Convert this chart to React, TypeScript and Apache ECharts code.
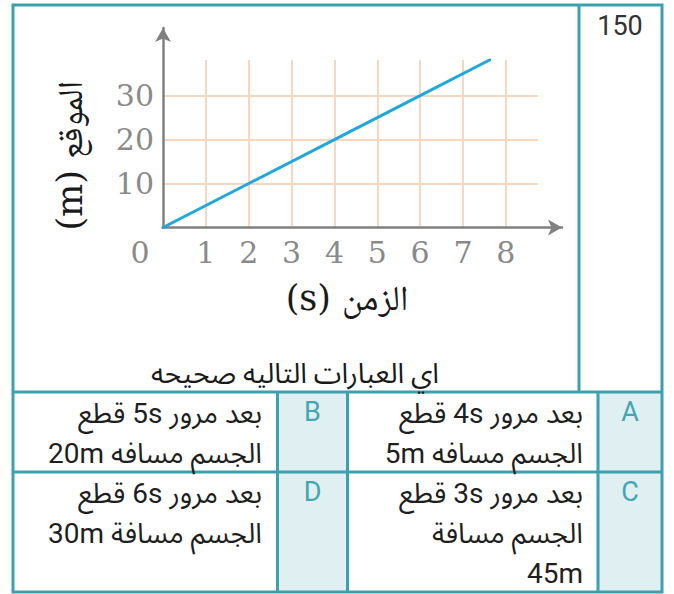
import React, { useEffect, useRef } from "react";
import * as echarts from "echarts";

// ---- data ----
const timeS = [0, 2, 4, 6, 7.62];
const positionM = [0, 10, 20, 30, 38.1];

const xAxisName = "الزمن (s)";
const yAxisName = "الموقع (m)";
const questionNumber = "150";
const questionText = "اي العبارات التاليه صحيحه";
const optionLetters = ["A", "B", "C", "D"];
const optionLines = [
  ["بعد مرور 4s قطع", "الجسم مسافه 5m"],
  ["بعد مرور 5s قطع", "الجسم مسافه 20m"],
  ["بعد مرور 3s قطع", "الجسم مسافة", "45m"],
  ["بعد مرور 6s قطع", "الجسم مسافة 30m"],
];

const RLE = "\u202B";
const PDF = "\u202C";
const rtl = (s: string) => RLE + s + PDF;

const TEAL = "#3ba1ae";
const CELL_FILL = "#e0eff2";
const GRID_COLOR = "#f9d6bd";
const AXIS_COLOR = "#808080";
const LABEL_COLOR = "#8a8a8a";
const ARABIC_FONT = "Roboto, 'Noto Sans Arabic', 'DejaVu Sans', sans-serif";
const SERIF_FONT = "'DejaVu Serif', 'Noto Naskh Arabic', 'DejaVu Sans', serif";

function buildTable(): any[] {
  const L = 13, R = 662, T = 5, B = 592;
  const rowY = [392, 472];
  const numX = 579;
  const leftLetterCol = [277.5, 347.5];
  const rightLetterCol = [598, 662];
  const els: any[] = [];
  [leftLetterCol, rightLetterCol].forEach((c) => {
    els.push({
      type: "rect",
      z: 0,
      shape: { x: c[0], y: rowY[0], width: c[1] - c[0], height: B - rowY[0] },
      style: { fill: CELL_FILL },
    });
  });
  const line = (x1: number, y1: number, x2: number, y2: number) => ({
    type: "line",
    z: 1,
    shape: { x1, y1, x2, y2 },
    style: { stroke: TEAL, lineWidth: 3 },
  });
  els.push({
    type: "rect",
    z: 1,
    shape: { x: L, y: T, width: R - L, height: B - T },
    style: { fill: "none", stroke: TEAL, lineWidth: 3 },
  });
  els.push(line(numX, T, numX, rowY[0]));
  els.push(line(L, rowY[0], R, rowY[0]));
  els.push(line(L, rowY[1], R, rowY[1]));
  els.push(line(leftLetterCol[0], rowY[0], leftLetterCol[0], B));
  els.push(line(leftLetterCol[1], rowY[0], leftLetterCol[1], B));
  els.push(line(rightLetterCol[0], rowY[0], rightLetterCol[0], B));

  els.push({
    type: "text",
    z: 2,
    x: 620,
    y: 26,
    style: {
      text: questionNumber,
      fill: "#333333",
      fontSize: 27,
      fontFamily: "Roboto, sans-serif",
      align: "center",
      verticalAlign: "middle",
    },
  });
  els.push({
    type: "text",
    z: 2,
    x: 295,
    y: 373,
    style: {
      text: rtl(questionText),
      fill: "#1a1a1a",
      fontSize: 28,
      fontFamily: ARABIC_FONT,
      align: "center",
      verticalAlign: "middle",
    },
  });

  const layout = [
    { letterX: 630, textX: 583, row: 0 },
    { letterX: 312.5, textX: 262, row: 0 },
    { letterX: 630, textX: 583, row: 1 },
    { letterX: 312.5, textX: 262, row: 1 },
  ];
  const rowTop = [393, 473];
  optionLetters.forEach((letter, i) => {
    const lay = layout[i];
    els.push({
      type: "text",
      z: 2,
      x: lay.letterX,
      y: rowTop[lay.row] + 19,
      style: {
        text: letter,
        fill: "#42a6b3",
        fontSize: 27,
        fontFamily: "Roboto, sans-serif",
        align: "center",
        verticalAlign: "middle",
      },
    });
    els.push({
      type: "text",
      z: 2,
      x: lay.textX,
      y: rowTop[lay.row],
      style: {
        text: optionLines[i].map(rtl).join("\n"),
        fill: "#1f1f1f",
        fontSize: 28,
        lineHeight: 40,
        fontFamily: ARABIC_FONT,
        align: "right",
        verticalAlign: "top",
      },
    });
  });
  return els;
}

export default function App() {
  const ref = useRef<HTMLDivElement>(null);
  useEffect(() => {
    if (!ref.current) return;
    const chart = echarts.init(ref.current, undefined, { renderer: "svg" });
    chart.setOption({
      animation: false,
      backgroundColor: "#ffffff",
      grid: [
        { left: 163, top: 60, width: 375, height: 167.5 },
        { left: 163, top: 28, width: 399, height: 199.5 },
      ],
      xAxis: [
        {
          gridIndex: 0,
          type: "value",
          min: 0,
          max: 8.75,
          interval: 1,
          axisLine: { show: false },
          axisTick: { show: false },
          splitLine: {
            show: true,
            showMinLine: false,
            showMaxLine: false,
            lineStyle: { color: GRID_COLOR, width: 2 },
          },
          axisLabel: {
            showMaxLabel: false,
            margin: 10,
            color: LABEL_COLOR,
            fontFamily: SERIF_FONT,
            fontSize: 30,
            formatter: (v: number) => (v === 0 ? "{z|0}" : String(v)),
            rich: {
              z: {
                padding: [0, 46, 0, 0],
                color: LABEL_COLOR,
                fontFamily: SERIF_FONT,
                fontSize: 30,
              },
            },
          },
          name: rtl(xAxisName),
          nameLocation: "middle",
          nameGap: 53,
          nameTextStyle: {
            color: "#1a1a1a",
            fontSize: 35,
            fontFamily: SERIF_FONT,
            padding: [0, 7, 0, 0],
          },
        },
        {
          gridIndex: 1,
          type: "value",
          min: 0,
          max: 1,
          axisLine: {
            show: true,
            symbol: ["none", "arrow"],
            symbolSize: [12, 14],
            lineStyle: { color: AXIS_COLOR, width: 2.5 },
          },
          axisTick: { show: false },
          axisLabel: { show: false },
          splitLine: { show: false },
        },
      ],
      yAxis: [
        {
          gridIndex: 0,
          type: "value",
          min: 0,
          max: 38.1,
          interval: 10,
          axisLine: { show: false },
          axisTick: { show: false },
          splitLine: {
            show: true,
            showMinLine: false,
            showMaxLine: false,
            lineStyle: { color: GRID_COLOR, width: 2 },
          },
          axisLabel: {
            showMinLabel: false,
            showMaxLabel: false,
            margin: 9,
            color: LABEL_COLOR,
            fontFamily: SERIF_FONT,
            fontSize: 30,
          },
          name: rtl(yAxisName),
          nameLocation: "middle",
          nameGap: 76,
          nameTextStyle: {
            color: "#1a1a1a",
            fontSize: 35,
            fontFamily: SERIF_FONT,
            padding: [0, 24, 0, 0],
          },
        },
        {
          gridIndex: 1,
          type: "value",
          min: 0,
          max: 1,
          axisLine: {
            show: true,
            symbol: ["none", "arrow"],
            symbolSize: [12, 14],
            lineStyle: { color: AXIS_COLOR, width: 2.5 },
          },
          axisTick: { show: false },
          axisLabel: { show: false },
          splitLine: { show: false },
        },
      ],
      series: [
        {
          type: "line",
          xAxisIndex: 0,
          yAxisIndex: 0,
          data: timeS.map((t, i) => [t, positionM[i]]),
          symbol: "none",
          showSymbol: false,
          clip: false,
          z: 5,
          lineStyle: { color: "#1fa8dc", width: 3, cap: "round" },
        },
      ],
      graphic: buildTable(),
    });
    return () => chart.dispose();
  }, []);
  return (
    <div
      ref={ref}
      style={{ position: "absolute", left: 0, top: 0, width: 674, height: 594 }}
    />
  );
}
